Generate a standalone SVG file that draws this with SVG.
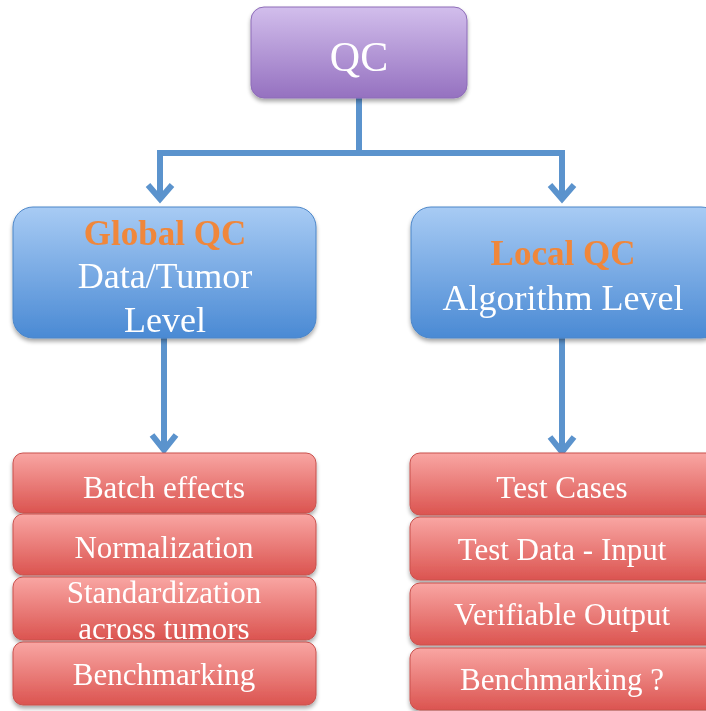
<svg xmlns="http://www.w3.org/2000/svg" width="706" height="711" viewBox="0 0 706 711">
<defs>
<linearGradient id="gPurple" x1="0" y1="0" x2="0" y2="1"><stop offset="0" stop-color="#D2BEEC"/><stop offset="1" stop-color="#9571C0"/></linearGradient>
<linearGradient id="gBlue" x1="0" y1="0" x2="0" y2="1"><stop offset="0" stop-color="#A8CBF4"/><stop offset="1" stop-color="#4A8AD4"/></linearGradient>
<linearGradient id="gRed" x1="0" y1="0" x2="0" y2="1"><stop offset="0" stop-color="#F9A6A3"/><stop offset="1" stop-color="#DB5450"/></linearGradient>
<filter id="sh" x="-10%" y="-10%" width="120%" height="130%"><feGaussianBlur in="SourceAlpha" stdDeviation="2"/><feOffset dx="0" dy="3"/><feComponentTransfer><feFuncA type="linear" slope="0.35"/></feComponentTransfer><feMerge><feMergeNode/><feMergeNode in="SourceGraphic"/></feMerge></filter>
</defs>
<style>
.purple{fill:url(#gPurple);stroke:#8D6CB8;stroke-width:1}
.blue{fill:url(#gBlue);stroke:#4C86C8;stroke-width:1}
.red{fill:url(#gRed);stroke:#C9514D;stroke-width:1}
.t{font-family:"Liberation Serif","Times New Roman",serif;fill:#FFFFFF;text-anchor:middle}
.h{font-family:"Liberation Serif","Times New Roman",serif;fill:#F0873A;font-weight:bold;text-anchor:middle}
.c{fill:none;stroke:#5B93CD;stroke-width:6}
.a{fill:none;stroke:#5B93CD;stroke-width:6;stroke-linejoin:miter}
</style>
<rect width="706" height="711" fill="#FFFFFF"/>
<g id="connectors">
<path class="c" d="M359 98 V153 M160 153 H562 M160 150 V199 M562 150 V199"/>
<path class="a" d="M148 185 L160 199 L172 185 M550 185 L562 199 L574 185"/>
<path class="c" d="M164 338 V450 M562 338 V452"/>
<path class="a" d="M152 435 L164 450 L176 435 M550 437 L562 452 L574 437"/>
</g>
<g id="qc" filter="url(#sh)">
<rect class="purple" x="251" y="7" width="216" height="91" rx="13"/>
<text class="t" x="359" y="71" font-size="42">QC</text>
</g>
<g id="global" filter="url(#sh)">
<rect class="blue" x="13" y="207" width="303" height="131" rx="20"/>
<text class="h" x="165" y="245" font-size="35">Global QC</text>
<text class="t" x="165" y="288" font-size="36">Data/Tumor</text>
<text class="t" x="165" y="332" font-size="36">Level</text>
</g>
<g id="local" filter="url(#sh)">
<rect class="blue" x="411" y="207" width="310" height="131" rx="20"/>
<text class="h" x="563" y="265" font-size="35">Local QC</text>
<text class="t" x="563" y="310" font-size="36">Algorithm Level</text>
</g>
<g id="batch" filter="url(#sh)">
<rect class="red" x="13" y="453" width="303" height="60" rx="10"/>
<text class="t" x="164" y="498" font-size="31">Batch effects</text>
</g>
<g id="norm" filter="url(#sh)">
<rect class="red" x="13" y="514" width="303" height="61" rx="10"/>
<text class="t" x="164" y="558" font-size="31">Normalization</text>
</g>
<g id="std" filter="url(#sh)">
<rect class="red" x="13" y="577" width="303" height="63" rx="10"/>
<text class="t" x="164" y="603" font-size="31">Standardization</text>
<text class="t" x="164" y="639" font-size="31">across tumors</text>
</g>
<g id="bench1" filter="url(#sh)">
<rect class="red" x="13" y="642" width="303" height="63" rx="10"/>
<text class="t" x="164" y="685" font-size="31">Benchmarking</text>
</g>
<g id="cases" filter="url(#sh)">
<rect class="red" x="410" y="453" width="310" height="62" rx="10"/>
<text class="t" x="562" y="498" font-size="31">Test Cases</text>
</g>
<g id="input" filter="url(#sh)">
<rect class="red" x="410" y="517" width="310" height="63" rx="10"/>
<text class="t" x="562" y="560" font-size="31">Test Data - Input</text>
</g>
<g id="output" filter="url(#sh)">
<rect class="red" x="410" y="583" width="310" height="62" rx="10"/>
<text class="t" x="562" y="625" font-size="31">Verifiable Output</text>
</g>
<g id="bench2" filter="url(#sh)">
<rect class="red" x="410" y="648" width="310" height="62" rx="10"/>
<text class="t" x="562" y="690" font-size="31">Benchmarking ?</text>
</g>
</svg>
